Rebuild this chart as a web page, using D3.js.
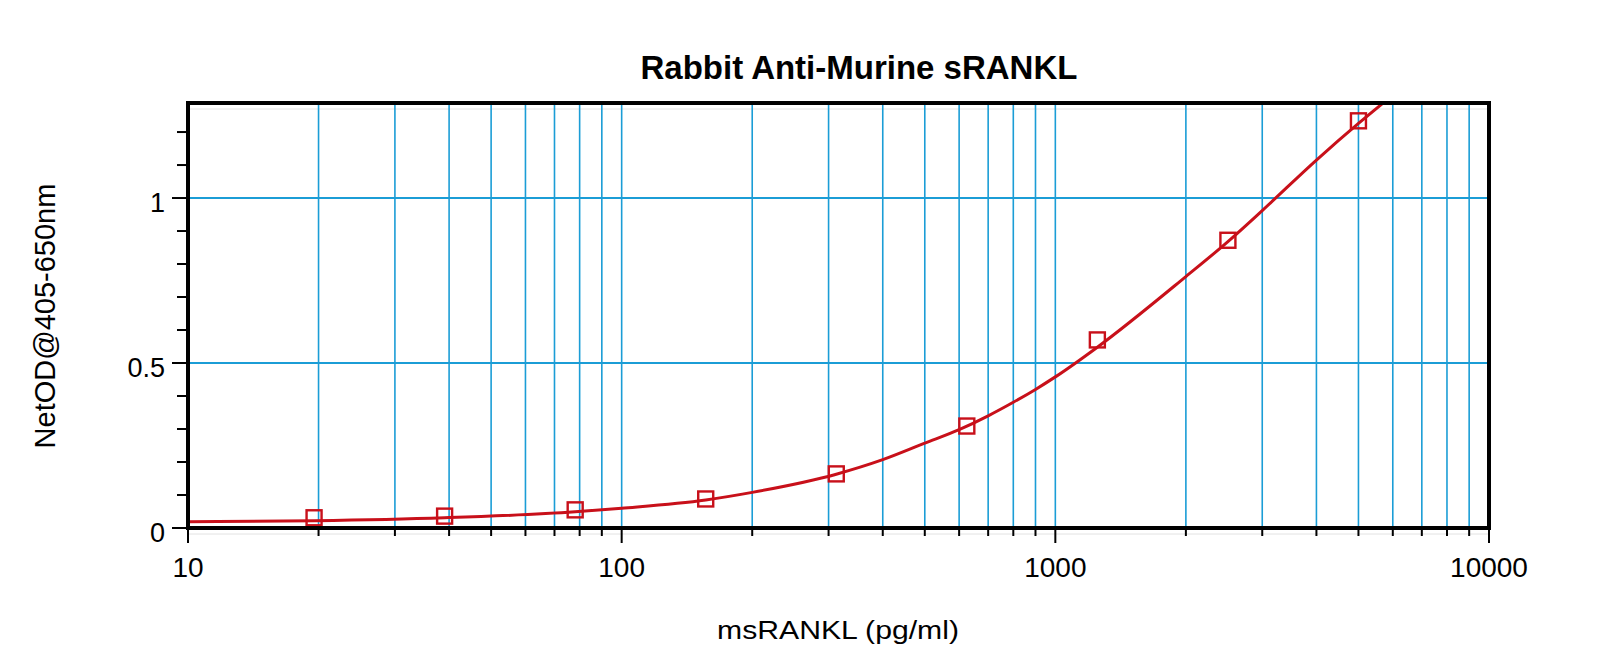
<!DOCTYPE html>
<html>
<head>
<meta charset="utf-8">
<script src="https://cdn.jsdelivr.net/npm/d3@7"></script>
<style>
  html, body { margin: 0; padding: 0; background: #fff; }
  svg { display: block; }
  text { font-family: "Liberation Sans", Arial, sans-serif; fill: #000; }
</style>
</head>
<body>
<svg id="chart" width="1619" height="671"></svg>
<script>
// ---------- data ----------
const titleText = "Rabbit Anti-Murine sRANKL";
const xLabelText = "msRANKL (pg/ml)";
const yLabelText = "NetOD@405-650nm";

const xMajorTicks = [10, 100, 1000, 10000];
const xTickLabels = ["10", "100", "1000", "10000"];
const yMajorTicks = [0, 0.5, 1];
const yTickLabels = ["0", "0.5", "1"];
const yMinorTicks = [0.1, 0.2, 0.3, 0.4, 0.6, 0.7, 0.8, 0.9, 1.1, 1.2];
const xMinorTicks = [20, 30, 40, 50, 60, 70, 80, 90,
                     200, 300, 400, 500, 600, 700, 800, 900,
                     2000, 3000, 4000, 5000, 6000, 7000, 8000, 9000];

// standards (concentration, OD)
const stdConc = [19.53, 39.06, 78.13, 156.25, 312.5, 625, 1250, 2500, 5000];
const stdOD   = [0.031, 0.036, 0.055, 0.088, 0.164, 0.309, 0.570, 0.872, 1.234];

// fitted curve
const fitConc = [10, 19.53, 39.06, 78.13, 100, 156.25, 200, 312.5, 400, 500, 600, 700, 800, 900, 1000, 1250, 2000, 2500, 3000, 4000, 5000, 5700];
const fitOD   = [0.019, 0.022, 0.031, 0.049, 0.060, 0.085, 0.108, 0.163, 0.207, 0.257, 0.298, 0.340, 0.381, 0.420, 0.458, 0.548, 0.762, 0.868, 0.962, 1.115, 1.226, 1.288];

// ---------- layout ----------
const L = 188, R = 1489, T = 103, B = 528;
const svg = d3.select("#chart");

const x = d3.scaleLog().domain([10, 10000]).range([L, R]);
const y = d3.scaleLinear().domain([0, 1.288]).range([B, T]);

const gridColor = "#1b9dd6";
const red = "#c8101a";

// clip
svg.append("defs").append("clipPath").attr("id", "plotclip")
  .append("rect").attr("x", L).attr("y", T).attr("width", R - L).attr("height", B - T);

// faint inner lines
svg.append("line").attr("x1", L).attr("x2", R).attr("y1", T + 6).attr("y2", T + 6)
  .attr("stroke", "#e2e2e2").attr("stroke-width", 1);
svg.append("line").attr("x1", L).attr("x2", R).attr("y1", B + 6).attr("y2", B + 6)
  .attr("stroke", "#e2e2e2").attr("stroke-width", 1);

// vertical grid
svg.append("g").selectAll("line").data(xMinorTicks.concat([100, 1000])).join("line")
  .attr("x1", d => x(d)).attr("x2", d => x(d))
  .attr("y1", T).attr("y2", B)
  .attr("stroke", gridColor).attr("stroke-width", 1.6);

// horizontal grid
svg.append("g").selectAll("line").data([0.5, 1]).join("line")
  .attr("x1", L).attr("x2", R)
  .attr("y1", d => y(d)).attr("y2", d => y(d))
  .attr("stroke", gridColor).attr("stroke-width", 2);

// curve
const line = d3.line().x((d, i) => x(fitConc[i])).y((d, i) => y(fitOD[i])).curve(d3.curveMonotoneX);
svg.append("path").datum(fitOD).attr("d", line)
  .attr("clip-path", "url(#plotclip)")
  .attr("fill", "none").attr("stroke", red).attr("stroke-width", 3);

// markers
const ms = 15;
svg.append("g").selectAll("rect").data(stdOD).join("rect")
  .attr("x", (d, i) => x(stdConc[i]) - ms / 2)
  .attr("y", d => y(d) - ms / 2)
  .attr("width", ms).attr("height", ms)
  .attr("fill", "none").attr("stroke", red).attr("stroke-width", 2.4);

// frame
svg.append("rect").attr("x", L).attr("y", T).attr("width", R - L).attr("height", B - T)
  .attr("fill", "none").attr("stroke", "#000").attr("stroke-width", 4);

// y ticks
svg.append("g").selectAll("line").data(yMajorTicks).join("line")
  .attr("x1", L - 16).attr("x2", L).attr("y1", d => y(d)).attr("y2", d => y(d))
  .attr("stroke", "#000").attr("stroke-width", 2);
svg.append("g").selectAll("line").data(yMinorTicks).join("line")
  .attr("x1", L - 11).attr("x2", L).attr("y1", d => y(d)).attr("y2", d => y(d))
  .attr("stroke", "#000").attr("stroke-width", 2);
svg.append("g").selectAll("text").data(yMajorTicks).join("text")
  .attr("x", 165).attr("y", d => y(d) + 14)
  .attr("text-anchor", "end").attr("font-size", 27)
  .text((d, i) => yTickLabels[i]);

// x ticks
svg.append("g").selectAll("line").data(xMajorTicks).join("line")
  .attr("x1", d => x(d)).attr("x2", d => x(d)).attr("y1", B).attr("y2", B + 15)
  .attr("stroke", "#000").attr("stroke-width", 2);
svg.append("g").selectAll("line").data(xMinorTicks).join("line")
  .attr("x1", d => x(d)).attr("x2", d => x(d)).attr("y1", B).attr("y2", B + 8)
  .attr("stroke", "#000").attr("stroke-width", 2);
svg.append("g").selectAll("text").data(xMajorTicks).join("text")
  .attr("x", d => x(d)).attr("y", 577)
  .attr("text-anchor", "middle").attr("font-size", 28)
  .text((d, i) => xTickLabels[i]);

// title
svg.append("text").attr("x", 859).attr("y", 79)
  .attr("text-anchor", "middle").attr("font-size", 33).attr("font-weight", "bold")
  .text(titleText);

// x label
svg.append("text").attr("x", 838).attr("y", 639)
  .attr("text-anchor", "middle").attr("font-size", 26)
  .attr("textLength", 242).attr("lengthAdjust", "spacingAndGlyphs")
  .text(xLabelText);

// y label
svg.append("text").attr("transform", "translate(55,316) rotate(-90)")
  .attr("text-anchor", "middle").attr("font-size", 29)
  .text(yLabelText);
</script>
</body>
</html>
